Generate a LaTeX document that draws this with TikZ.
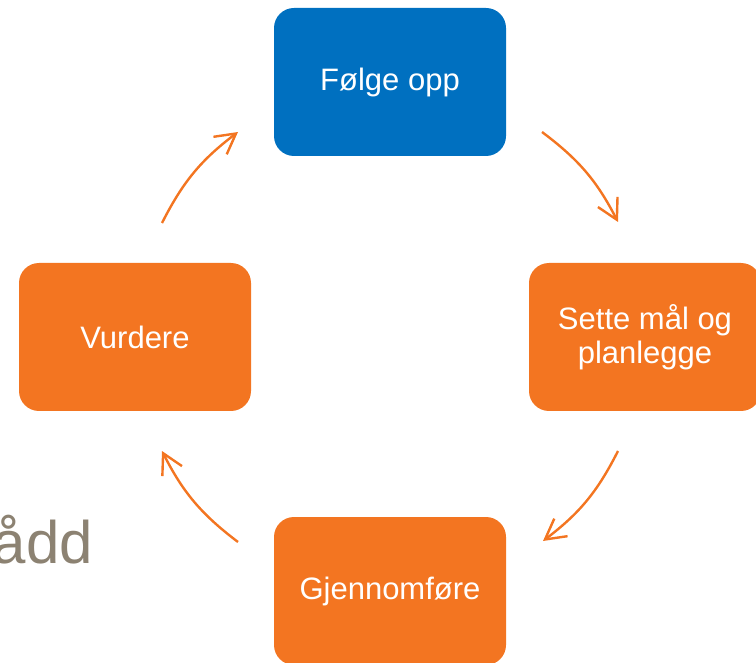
\documentclass[tikz,border=0pt]{standalone}
\usepackage{fontspec}
\setmainfont{Liberation Sans}
\usetikzlibrary{arrows.meta}
\definecolor{boxblue}{RGB}{0,112,192}
\definecolor{boxorange}{RGB}{243,117,33}
\definecolor{txtgrey}{RGB}{140,130,114}
\begin{document}
\begin{tikzpicture}[x=1pt,y=-1pt,
  stepbox/.style={rounded corners=20pt, minimum width=232pt, minimum height=148pt,
    inner sep=0pt, text=white, font=\fontsize{31}{34}\selectfont, align=center},
  cyc/.style={draw=boxorange, line width=2.4pt,
    -{Straight Barb[length=20pt,width=22pt]}, bend left=13}]
\useasboundingbox (0,0) rectangle (756,663);
\clip (0,0) rectangle (756,663);
\node[stepbox, fill=boxblue] (f) at (390,82) {Følge opp};
\node[stepbox, fill=boxorange] (s) at (645,337) {Sette mål og\\planlegge};
\node[stepbox, fill=boxorange] (g) at (390,591) {Gjennomføre};
\node[stepbox, fill=boxorange] (v) at (135,337) {Vurdere};
\node[anchor=base east, text=txtgrey, font=\fontsize{60}{72}\selectfont, inner sep=0pt] (t) at (93,563) {ådd};
\coordinate (a1) at (542,132);
\coordinate (b1) at (618,222);
\coordinate (a2) at (618,451);
\coordinate (b2) at (543,541);
\coordinate (a3) at (238,542);
\coordinate (b3) at (162,451);
\coordinate (a4) at (162,223);
\coordinate (b4) at (238,132);
\draw[cyc] (a1) to (b1);
\draw[cyc] (a2) to (b2);
\draw[cyc] (a3) to (b3);
\draw[cyc] (a4) to (b4);
\end{tikzpicture}
\end{document}
